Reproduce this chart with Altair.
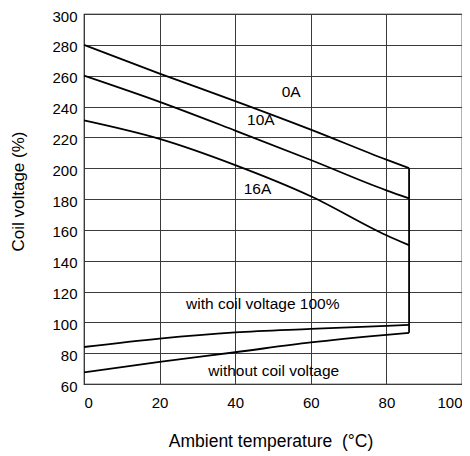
import altair as alt
import pandas as pd

# Ambient temperature sample points (°C)
temps = [0, 20, 40, 60, 80, 86]

# Coil voltage (%) curves
curve_0a = [280, 261.3, 243.5, 225, 205.5, 200]
curve_10a = [260, 243, 224.4, 205.3, 185.6, 180.4]
curve_16a = [231, 219, 202, 181.8, 156.5, 150]
curve_with = [84, 89.5, 93.5, 95.7, 97.7, 98.3]
curve_without = [67.5, 74.4, 80.6, 87, 91.9, 93.2]
series_names = ["0A", "10A", "16A", "with", "without"]

# Vertical limit at the maximum ambient temperature
edge_temp = [86]
edge_low = [93.2]
edge_high = [200]

# Curve labels
label_text = ["0A", "10A", "16A", "with coil voltage 100%", "without coil voltage"]
label_x = [54.8, 46.8, 45.9, 47.3, 50.2]
label_y = [249.7, 231.0, 186.8, 111.6, 68.4]

x_ticks = [0, 20, 40, 60, 80, 100]
y_ticks = [60, 80, 100, 120, 140, 160, 180, 200, 220, 240, 260, 280, 300]

rows = []
for name, vals in zip(series_names, [curve_0a, curve_10a, curve_16a, curve_with, curve_without]):
    for t, v in zip(temps, vals):
        rows.append({"series": name, "temp": t, "volt": v})
df = pd.DataFrame(rows)
edge_df = pd.DataFrame({"temp": edge_temp, "low": edge_low, "high": edge_high})
lab_df = pd.DataFrame({"text": label_text, "x": label_x, "y": label_y})

FONT = "Liberation Sans"
xscale = alt.Scale(domain=[0, 100], nice=False, zero=False)
yscale = alt.Scale(domain=[60, 300], nice=False, zero=False)

x_axis = alt.Axis(values=x_ticks, title="Ambient temperature\u00a0 (°C)", labelPadding=11,
                  labelOverlap=False, titleX=186.5, titleY=48, titleAlign="center",
                  titleBaseline="top", titleFontSize=17.5)
y_axis = alt.Axis(values=y_ticks, title="Coil voltage (%)", labelPadding=7,
                  labelOverlap=False, labelOffset=2,
                  titleX=-65.5, titleY=177, titleAngle=270, titleAlign="center",
                  titleBaseline="middle")

lines = alt.Chart(df).mark_line(color="black", strokeWidth=1.8, interpolate="monotone").encode(
    x=alt.X("temp:Q", scale=xscale, axis=x_axis),
    y=alt.Y("volt:Q", scale=yscale, axis=y_axis),
    detail="series:N",
)

edge = alt.Chart(edge_df).mark_rule(color="black", strokeWidth=1.8).encode(
    x=alt.X("temp:Q", scale=xscale, axis=x_axis),
    y=alt.Y("low:Q", scale=yscale, axis=y_axis),
    y2="high:Q",
)

texts = alt.Chart(lab_df).mark_text(font=FONT, fontSize=15.5, color="black",
                                    align="center", baseline="middle").encode(
    x=alt.X("x:Q", scale=xscale, axis=x_axis),
    y=alt.Y("y:Q", scale=yscale, axis=y_axis),
    text="text:N",
)

chart = alt.layer(lines, edge, texts).properties(
    width=378,
    height=370,
    padding={"left": 76, "top": 6, "right": 0, "bottom": 68},
    autosize=alt.AutoSizeParams(type="none"),
    background="white",
).configure_view(
    stroke="black", strokeWidth=1.2
).configure_axis(
    grid=True, gridColor="#3a3a3a", gridWidth=1, gridOpacity=1,
    domain=False, ticks=False,
    labelFont=FONT, labelFontSize=15, labelColor="black",
    titleFont=FONT, titleFontSize=17, titleFontWeight="normal", titleColor="black",
)

chart.save("out.html", embed_options={"renderer": "svg", "actions": False})
